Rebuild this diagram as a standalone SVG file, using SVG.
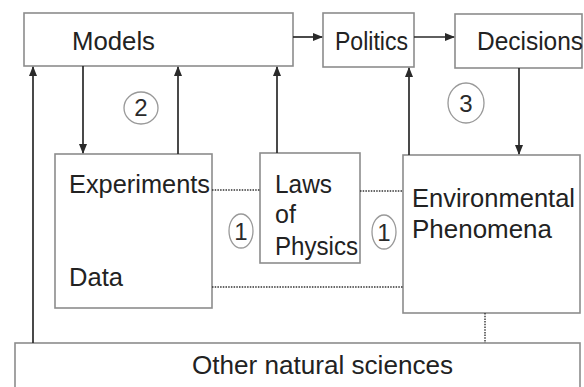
<svg xmlns="http://www.w3.org/2000/svg" width="584" height="387" viewBox="0 0 584 387">
<style>
.box{fill:#fff;stroke:#8c8c8c;stroke-width:1.6}
.t{font-family:"Liberation Sans",Arial,sans-serif;font-size:25px;fill:#222}
.ar{stroke:#2a2a2a;stroke-width:1.7;fill:none;marker-end:url(#ah)}
.dot{stroke:#333;stroke-width:1.4;stroke-dasharray:1.5 1.2;fill:none}
.c{fill:none;stroke:#999;stroke-width:1.3}
.n{font-family:"Liberation Sans",Arial,sans-serif;font-size:24px;fill:#2a2a2a;text-anchor:middle}
</style>
<defs>
<marker id="ah" markerWidth="10" markerHeight="10" refX="9" refY="5" orient="auto" markerUnits="userSpaceOnUse">
<path d="M0,1 L10,5 L0,9 Z" fill="#2a2a2a"/>
</marker>
</defs>
<rect width="584" height="387" fill="#fff"/>
<g id="models"><rect class="box" x="24" y="13" width="269" height="53"/><text class="t" x="72" y="50" textLength="83" lengthAdjust="spacingAndGlyphs">Models</text></g>
<g id="politics"><rect class="box" x="323" y="13" width="91" height="54"/><text class="t" x="335" y="50" textLength="73" lengthAdjust="spacingAndGlyphs">Politics</text></g>
<g id="decisions"><rect class="box" x="455" y="14" width="127" height="54"/><text class="t" x="477" y="50" textLength="106" lengthAdjust="spacingAndGlyphs">Decisions</text></g>
<g id="experiments"><rect class="box" x="55" y="154" width="157" height="154"/><text class="t" x="69" y="193" textLength="141" lengthAdjust="spacingAndGlyphs">Experiments</text><text class="t" x="69" y="286" textLength="54" lengthAdjust="spacingAndGlyphs">Data</text></g>
<g id="laws"><rect class="box" x="260" y="153" width="100" height="110"/><text class="t" x="275" y="193" textLength="57" lengthAdjust="spacingAndGlyphs">Laws</text><text class="t" x="275" y="223">of</text><text class="t" x="275" y="255" textLength="83" lengthAdjust="spacingAndGlyphs">Physics</text></g>
<g id="environment"><rect class="box" x="403" y="155" width="177" height="158"/><text class="t" x="412" y="207" textLength="163" lengthAdjust="spacingAndGlyphs">Environmental</text><text class="t" x="412" y="238" textLength="140" lengthAdjust="spacingAndGlyphs">Phenomena</text></g>
<g id="other"><rect class="box" x="15" y="343" width="565" height="52"/><text class="t" x="192" y="374" textLength="261" lengthAdjust="spacingAndGlyphs">Other natural sciences</text></g>
<g id="connectors">
<line class="ar" x1="293" y1="37" x2="322" y2="37"/>
<line class="ar" x1="414" y1="37" x2="454" y2="37"/>
<line class="ar" x1="519" y1="68" x2="519" y2="154"/>
<line class="ar" x1="83" y1="66" x2="83" y2="153"/>
<line class="ar" x1="178" y1="154" x2="178" y2="67"/>
<line class="ar" x1="277" y1="153" x2="277" y2="67"/>
<line class="ar" x1="409" y1="155" x2="409" y2="68"/>
<line class="ar" x1="33" y1="343" x2="33" y2="67"/>
<line class="dot" x1="212" y1="190" x2="260" y2="190"/>
<line class="dot" x1="360" y1="191" x2="403" y2="191"/>
<line class="dot" x1="212" y1="287" x2="403" y2="287"/>
<line class="dot" x1="485" y1="313" x2="485" y2="343"/>
</g>
<g id="labels">
<ellipse class="c" cx="141" cy="108" rx="17" ry="16"/><text class="n" x="141" y="116">2</text>
<ellipse class="c" cx="466" cy="103" rx="18" ry="20"/><text class="n" x="466" y="112">3</text>
<ellipse class="c" cx="241" cy="231" rx="12" ry="17"/><text class="n" x="241" y="240" font-size="26">1</text>
<ellipse class="c" cx="384" cy="232" rx="12" ry="17"/><text class="n" x="384" y="241" font-size="26">1</text>
</g>
</svg>
